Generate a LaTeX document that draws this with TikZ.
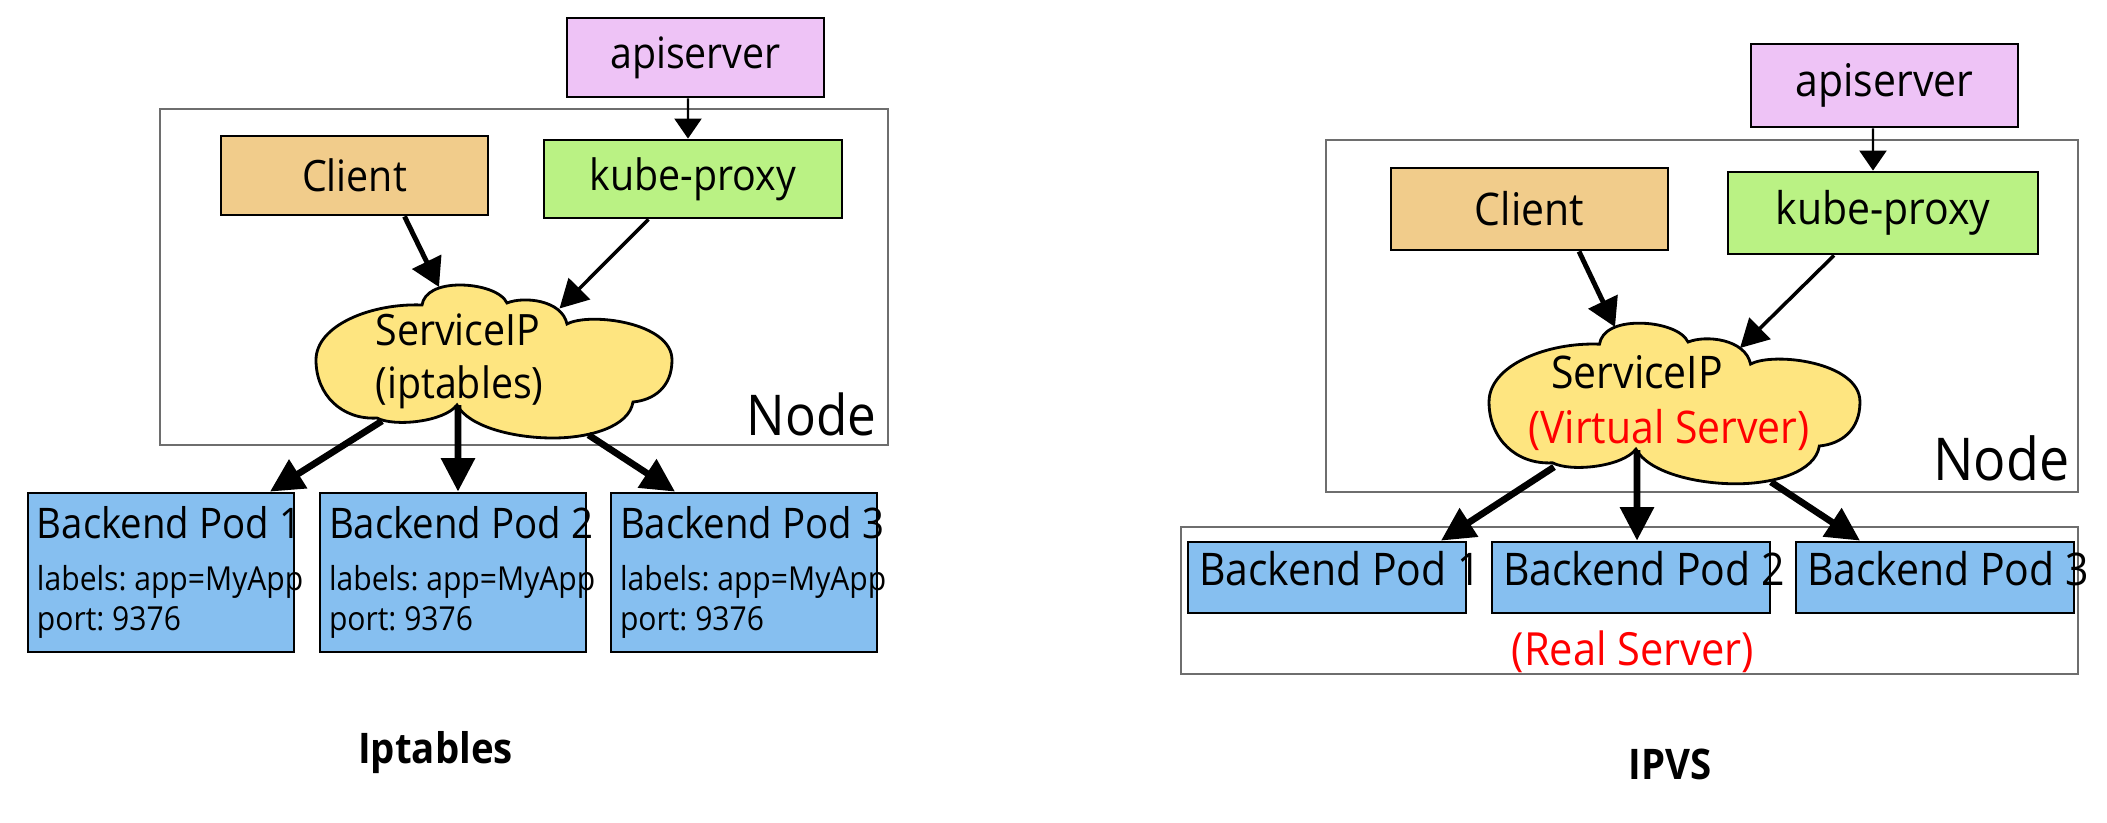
\documentclass[tikz,border=0pt]{standalone}
\usepackage{fontspec}
\setmainfont{Open Sans}[FakeStretch=0.91]
\usepackage{xcolor}
\usetikzlibrary{arrows.meta,calc}

\definecolor{apiviolet}{RGB}{238,195,246}
\definecolor{clientorange}{RGB}{241,204,139}
\definecolor{proxygreen}{RGB}{186,242,132}
\definecolor{cloudyellow}{RGB}{254,229,128}
\definecolor{podblue}{RGB}{134,191,240}
\definecolor{nodegray}{RGB}{110,110,110}

\newcommand{\iptfont}{\fontsize{12.3pt}{15pt}\selectfont}
\newcommand{\ipvsfont}{\fontsize{12.8pt}{15.6pt}\selectfont}
\newcommand{\podtext}[1]{\makebox[2.48cm][l]{\fontsize{12pt}{14pt}\selectfont Backend Pod #1}\\[3.4pt]\makebox[2.48cm][l]{labels: app=MyApp}\\port: 9376}
% cloud outline, relative to its centre
\newcommand{\serviceipcloud}{(-1.17,-0.56) .. controls (-1.52,-0.58) and (-1.78,-0.33) .. (-1.78,0.02)
  .. controls (-1.78,0.37) and (-1.22,0.59) .. (-0.72,0.57)
  .. controls (-0.70,0.70) and (-0.55,0.77) .. (-0.34,0.77)
  .. controls (-0.13,0.77) and (0.08,0.70) .. (0.13,0.59)
  .. controls (0.30,0.66) and (0.68,0.62) .. (0.73,0.38)
  .. controls (0.95,0.50) and (1.78,0.40) .. (1.78,0.02)
  .. controls (1.78,-0.25) and (1.60,-0.38) .. (1.39,-0.40)
  .. controls (1.35,-0.65) and (0.95,-0.76) .. (0.59,-0.76)
  .. controls (0.20,-0.76) and (-0.25,-0.65) .. (-0.37,-0.43)
  .. controls (-0.50,-0.60) and (-1.00,-0.65) .. (-1.17,-0.56) -- cycle}

\begin{document}
\begin{tikzpicture}[line width=1pt,
  compbox/.style={draw,line width=0.8pt,inner sep=0pt},
  nodebox/.style={draw=nodegray,line width=0.6pt,inner sep=0pt},
  cloudline/.style={draw,fill=cloudyellow,line width=0.8pt},
  podbox/.style={draw,fill=podblue,line width=0.8pt,inner xsep=0.09cm,inner ysep=0pt,align=left,font=\fontsize{9.4pt}{11.4pt}\selectfont\frenchspacing},
  podboxR/.style={draw,fill=podblue,line width=0.8pt,inner xsep=0.11cm,inner ysep=0pt,font=\ipvsfont,text height=0.35cm,text depth=0.2cm},
  apiarrow/.style={-{Triangle[length=5.7pt,width=7.7pt]},line width=0.6pt},
  clientarrow/.style={-{Triangle[length=8pt,width=9pt]},line width=1.4pt},
  proxyarrow/.style={-{Triangle[length=8pt,width=8.5pt]},line width=1pt},
  podarrow/.style={-{Triangle[length=9.5pt,width=9.3pt]},line width=1.9pt}]

\path[use as bounding box,fill=white] (0,0) rectangle (21.07,-8.22);


% Iptables
\node[nodebox,minimum width=7.28cm,minimum height=3.36cm] (Node) at (5.24,-2.77) {};
\node[anchor=base east,inner sep=0pt,font=\fontsize{16pt}{19pt}\selectfont] (NodeLabel) at (8.78,-4.35) {Node};

\node[compbox,fill=apiviolet,minimum width=2.57cm,minimum height=0.79cm,font=\iptfont] (Apiserver) at (6.955,-0.575) {apiserver};
\node[compbox,fill=clientorange,minimum width=2.67cm,minimum height=0.79cm,font=\iptfont] (Client) at (3.545,-1.755) {Client};
\node[compbox,fill=proxygreen,minimum width=2.98cm,minimum height=0.78cm,font=\iptfont] (KubeProxy) at (6.93,-1.79) {kube-proxy};

\coordinate (ServiceIP) at (4.94,-3.62);
\path[cloudline,shift={(ServiceIP)}] \serviceipcloud;
\node[align=left,inner sep=0pt,font=\iptfont] (ServiceIPText) at (4.595,-3.61) {ServiceIP\\(iptables)};

\node[podbox,minimum height=1.59cm] (Pod1) at (1.61,-5.725) {\podtext{1}};
\node[podbox,minimum height=1.59cm] (Pod2) at (4.53,-5.725) {\podtext{2}};
\node[podbox,minimum height=1.59cm] (Pod3) at (7.44,-5.725) {\podtext{3}};

\draw[apiarrow] ($(Apiserver.south)+(-0.075,0)$) -- ($(KubeProxy.north)+(-0.05,0)$);
\draw[clientarrow] ($(Client.south)+(0.50,0)$) -- ($(ServiceIP)+(-0.55,0.75)$);
\draw[proxyarrow] ($(KubeProxy.south)+(-0.445,0)$) -- ($(ServiceIP)+(0.655,0.535)$);

\draw[podarrow] ($(ServiceIP)+(-1.12,-0.59)$) -- ($(Pod1.north)+(1.09,0)$);
\draw[podarrow] ($(ServiceIP)+(-0.36,-0.43)$) -- ($(Pod2.north)+(0.05,0)$);
\draw[podarrow] ($(ServiceIP)+(0.945,-0.73)$) -- ($(Pod3.north)+(-0.69,0)$);

\node[anchor=base,font=\bfseries\fontsize{12pt}{14pt}\selectfont] (TitleIptables) at (4.355,-7.63) {Iptables};


%%%


% IPVS
\node[nodebox,minimum width=7.52cm,minimum height=3.52cm] (Node_ipvs) at (17.02,-3.16) {};
\node[anchor=base east,inner sep=0pt,font=\fontsize{16.8pt}{20pt}\selectfont] (NodeLabel_ipvs) at (20.71,-4.80) {Node};

\node[compbox,fill=apiviolet,minimum width=2.67cm,minimum height=0.83cm,font=\ipvsfont] (Apiserver_ipvs) at (18.845,-0.855) {apiserver};
\node[compbox,fill=clientorange,minimum width=2.77cm,minimum height=0.82cm,font=\ipvsfont] (Client_ipvs) at (15.295,-2.09) {Client};
\node[compbox,fill=proxygreen,minimum width=3.10cm,minimum height=0.82cm,font=\ipvsfont] (KubeProxy_ipvs) at (18.83,-2.13) {kube-proxy};

\coordinate (ServiceIP_ipvs) at (16.745,-4.04);
\path[cloudline,shift={(ServiceIP_ipvs)},xscale=1.042,yscale=1.05] \serviceipcloud;
\node[align=left,inner sep=0pt,font=\ipvsfont] (ServiceIPText_ipvs) at (16.69,-4.03) {\hspace*{0.23cm}ServiceIP\\\textcolor{red}{(Virtual Server)}};

\node[nodebox,minimum width=8.97cm,minimum height=1.47cm] (RealServer) at (16.295,-6.005) {};
\node[anchor=base,text=red,font=\fontsize{13pt}{15pt}\selectfont] (RealServerLabel) at (16.33,-6.65) {(Real Server)};

\node[podboxR,minimum height=0.71cm] (Pod1_ipvs) at (13.27,-5.775) {\makebox[2.56cm][l]{Backend Pod 1}};
\node[podboxR,minimum height=0.71cm] (Pod2_ipvs) at (16.31,-5.775) {\makebox[2.56cm][l]{Backend Pod 2}};
\node[podboxR,minimum height=0.71cm] (Pod3_ipvs) at (19.35,-5.775) {\makebox[2.56cm][l]{Backend Pod 3}};

\draw[apiarrow] ($(Apiserver_ipvs.south)+(-0.115,0)$) -- ($(KubeProxy_ipvs.north)+(-0.10,0)$);
\draw[clientarrow] ($(Client_ipvs.south)+(0.495,0)$) -- ($(ServiceIP_ipvs)+(-0.595,0.77)$);
\draw[proxyarrow] ($(KubeProxy_ipvs.south)+(-0.49,0)$) -- ($(ServiceIP_ipvs)+(0.655,0.56)$);

\draw[podarrow] ($(ServiceIP_ipvs)+(-1.205,-0.63)$) -- ($(Pod1_ipvs.north)+(1.14,0)$);
\draw[podarrow] ($(ServiceIP_ipvs)+(-0.375,-0.46)$) -- ($(Pod2_ipvs.north)+(0.06,0)$);
\draw[podarrow] ($(ServiceIP_ipvs)+(0.965,-0.78)$) -- ($(Pod3_ipvs.north)+(-0.75,0)$);

\node[anchor=base,font=\bfseries\fontsize{12pt}{14pt}\selectfont] (TitleIPVS) at (16.70,-7.79) {IPVS};


\end{tikzpicture}
\end{document}
